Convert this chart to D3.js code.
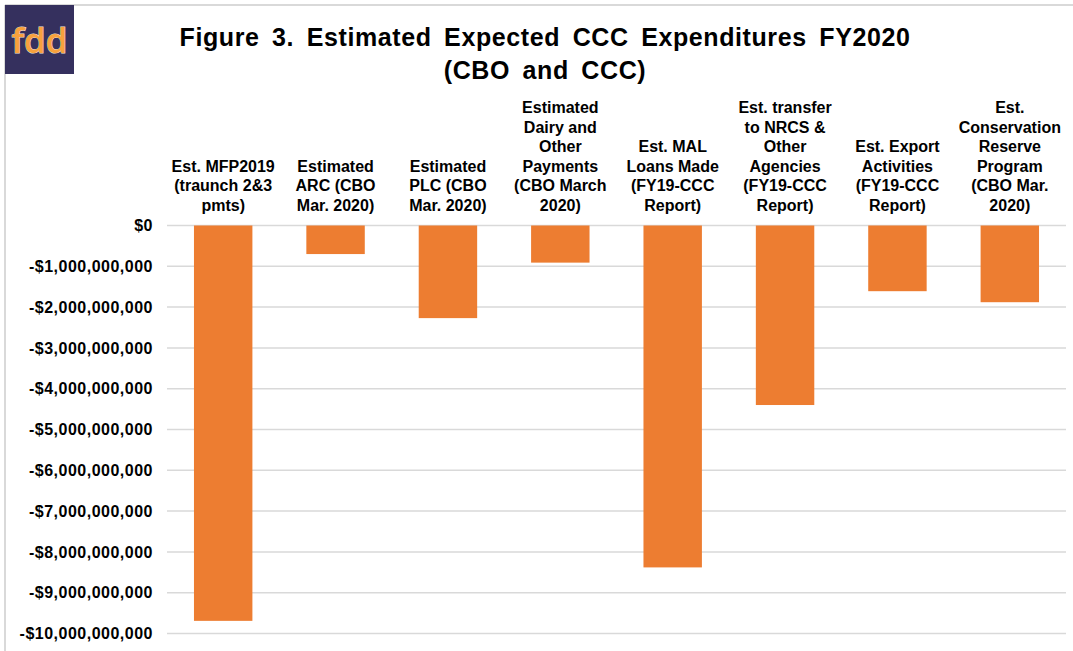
<!DOCTYPE html>
<html>
<head>
<meta charset="utf-8">
<script src="https://cdn.jsdelivr.net/npm/d3@7/dist/d3.min.js"></script>
<style>
  html, body { margin: 0; padding: 0; background: #fff; }
  svg { display: block; font-family: "Liberation Sans", Arial, sans-serif; }
</style>
</head>
<body>
<svg id="chart" width="1073" height="651"></svg>
<script>
// Category labels (one entry per line of the wrapped label)
const categories = [
  ["Est. MFP2019", "(traunch 2&3", "pmts)"],
  ["Estimated", "ARC (CBO", "Mar. 2020)"],
  ["Estimated", "PLC (CBO", "Mar. 2020)"],
  ["Estimated", "Dairy and", "Other", "Payments", "(CBO March", "2020)"],
  ["Est. MAL", "Loans Made", "(FY19-CCC", "Report)"],
  ["Est. transfer", "to NRCS &", "Other", "Agencies", "(FY19-CCC", "Report)"],
  ["Est. Export", "Activities", "(FY19-CCC", "Report)"],
  ["Est.", "Conservation", "Reserve", "Program", "(CBO Mar.", "2020)"]
];

// Estimated expenditures, dollars (shown as outflows)
const values = [
  -9.69e9, -0.70e9, -2.27e9, -0.91e9, -8.38e9, -4.40e9, -1.61e9, -1.88e9
];

// Value axis ticks
const tickValues = [0, -1e9, -2e9, -3e9, -4e9, -5e9, -6e9, -7e9, -8e9, -9e9, -10e9];

const titleLines = ["Figure 3. Estimated Expected CCC Expenditures FY2020", "(CBO and CCC)"];

const svg = d3.select("#chart");

// outer frame (top and left edges)
svg.append("line").attr("x1", 5).attr("x2", 1073).attr("y1", 5).attr("y2", 5)
  .attr("stroke", "#d9d9d9").attr("stroke-width", 2);
svg.append("line").attr("x1", 5).attr("x2", 5).attr("y1", 5).attr("y2", 651)
  .attr("stroke", "#d9d9d9").attr("stroke-width", 2);

// logo badge
svg.append("rect").attr("x", 5).attr("y", 5).attr("width", 69).attr("height", 69)
  .attr("fill", "#35305e");
svg.append("text").attr("x", 39.5).attr("y", 53)
  .attr("text-anchor", "middle")
  .attr("font-family", "'Open Sans', sans-serif")
  .attr("font-weight", 600)
  .attr("font-size", 35)
  .attr("fill", "#f7a13d")
  .attr("stroke", "#efe3d2").attr("stroke-width", 0.9)
  .attr("paint-order", "stroke")
  .text("fdd");

// title
svg.selectAll("text.title")
  .data(titleLines)
  .join("text")
  .attr("class", "title")
  .attr("x", 545)
  .attr("y", (d, i) => 46 + i * 33)
  .attr("text-anchor", "middle")
  .attr("font-weight", "bold")
  .attr("font-size", 25)
  .attr("letter-spacing", 0.6)
  .attr("word-spacing", 5)
  .attr("fill", "#000")
  .text(d => d);

const x = d3.scaleBand()
  .domain(d3.range(categories.length))
  .range([167, 1066])
  .paddingInner(0.48)
  .paddingOuter(0.24);

const y = d3.scaleLinear()
  .domain([-10e9, 0])
  .range([633.5, 225.5]);

// gridlines
svg.append("g")
  .selectAll("line")
  .data(tickValues)
  .join("line")
  .attr("x1", 167).attr("x2", 1066)
  .attr("y1", d => y(d)).attr("y2", d => y(d))
  .attr("stroke", "#d9d9d9").attr("stroke-width", 1.5);

// value axis labels
const fmt = v => (v < 0 ? "-$" : "$") + d3.format(",")(Math.abs(v));
const yAxis = d3.axisLeft(y).tickValues(tickValues).tickFormat(fmt).tickSize(0).tickPadding(14);
const gy = svg.append("g").attr("transform", "translate(167,0)").call(yAxis);
gy.select(".domain").remove();
gy.selectAll("text")
  .attr("font-family", "'Liberation Sans', Arial, sans-serif")
  .attr("font-weight", "bold")
  .attr("font-size", 16)
  .attr("letter-spacing", 0.5)
  .attr("fill", "#000");

// bars
svg.append("g")
  .selectAll("rect")
  .data(values)
  .join("rect")
  .attr("x", (d, i) => x(i))
  .attr("width", x.bandwidth())
  .attr("y", d => y(Math.max(0, d)))
  .attr("height", d => Math.abs(y(d) - y(0)))
  .attr("fill", "#ed7d31");

// category labels, bottom-aligned above the zero line
const lineH = 19.6;
const labels = svg.append("g")
  .selectAll("text")
  .data(categories)
  .join("text")
  .attr("text-anchor", "middle")
  .attr("font-weight", "bold")
  .attr("font-size", 16)
  .attr("fill", "#000");
labels.each(function(lines, i) {
  const cx = x(i) + x.bandwidth() / 2;
  const base = 211 - (lines.length - 1) * lineH;
  d3.select(this).selectAll("tspan")
    .data(lines)
    .join("tspan")
    .attr("x", cx)
    .attr("y", (d, k) => base + k * lineH)
    .text(d => d);
});
</script>
</body>
</html>
